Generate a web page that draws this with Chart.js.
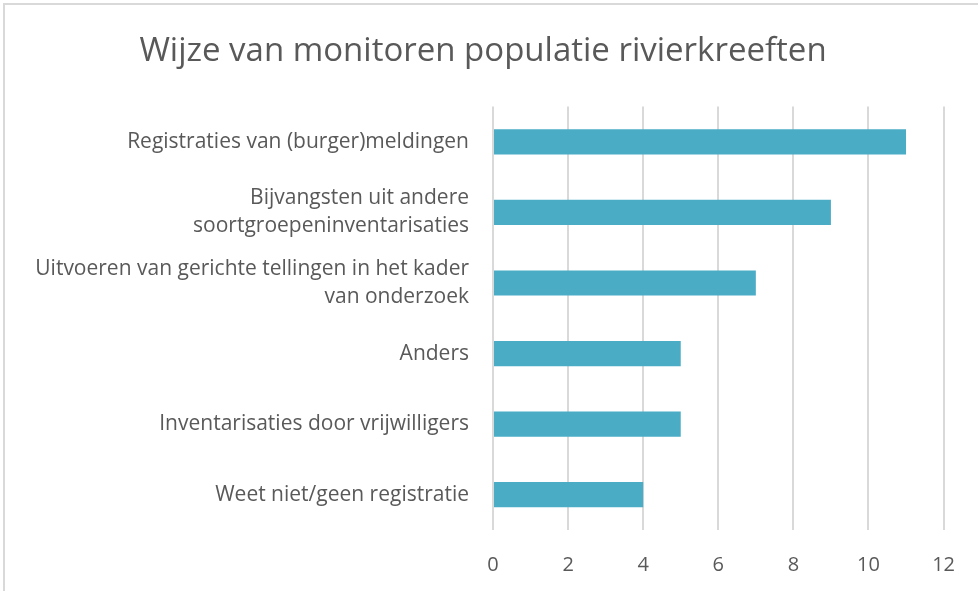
<!DOCTYPE html>
<html>
<head>
<meta charset="utf-8">
<script src="https://cdn.jsdelivr.net/npm/chart.js@4"></script>
<style>
  html, body { margin: 0; padding: 0; background: #fff; }
  #wrap { position: relative; width: 978px; height: 591px; overflow: hidden; }
  #frame { position: absolute; left: 3px; top: 3px; width: 990px; height: 600px;
           border-left: 2px solid #d9d9d9; border-top: 2px solid #d9d9d9; }
  canvas { position: absolute; left: 0; top: 0; }
</style>
</head>
<body>
<div id="wrap">
  <div id="frame"></div>
  <canvas id="chart" width="978" height="591"></canvas>
</div>
<script>
// ---- data ----
const categories = [
    'Registraties van (burger)meldingen',
    ['Bijvangsten uit andere', 'soortgroepeninventarisaties'],
    ['Uitvoeren van gerichte tellingen in het kader', 'van onderzoek'],
    'Anders',
    'Inventarisaties door vrijwilligers',
    'Weet niet/geen registratie'
];
const counts = [11, 9, 7, 5, 5, 4];
const xTicks = [0, 2, 4, 6, 8, 10, 12];

const TEXT = '#595959';
const GRID = '#d9d9d9';
const BAR = '#4bacc6';
const FONT = '"Open Sans", sans-serif';

const config = {
    type: 'bar',
    data: {
        labels: categories,
        datasets: [{
            data: counts,
            backgroundColor: BAR,
            borderWidth: 0,
            categoryPercentage: 0.7,
            barPercentage: 0.51
        }]
    },
    options: {
        indexAxis: 'y',
        responsive: false,
        animation: false,
        layout: { padding: { left: 20, right: 32, top: 0, bottom: 14 } },
        plugins: {
            legend: { display: false },
            tooltip: { enabled: false },
            title: {
                display: true,
                text: 'Wijze van monitoren populatie rivierkreeften',
                color: TEXT,
                font: { family: FONT, size: 33, weight: 'normal', lineHeight: 1.2 },
                padding: { top: 32, bottom: 35 }
            }
        },
        scales: {
            x: {
                min: 0,
                max: 12,
                afterBuildTicks: (scale) => {
                    scale.ticks = xTicks.map(v => ({ value: v }));
                },
                afterFit: (scale) => { scale.height = 47; },
                grid: { color: GRID, lineWidth: 2, drawTicks: false },
                border: { display: false },
                ticks: {
                    color: TEXT,
                    font: { family: FONT, size: 20, lineHeight: 1.2 },
                    padding: 23,
                    maxRotation: 0
                }
            },
            y: {
                grid: { display: false },
                border: { display: false },
                afterFit: (scale) => { scale.width = 473; },
                ticks: {
                    color: TEXT,
                    font: { family: FONT, size: 21, lineHeight: 1.33 },
                    padding: 16
                }
            }
        }
    }
};

new Chart(document.getElementById('chart').getContext('2d'), config);
</script>
</body>
</html>
